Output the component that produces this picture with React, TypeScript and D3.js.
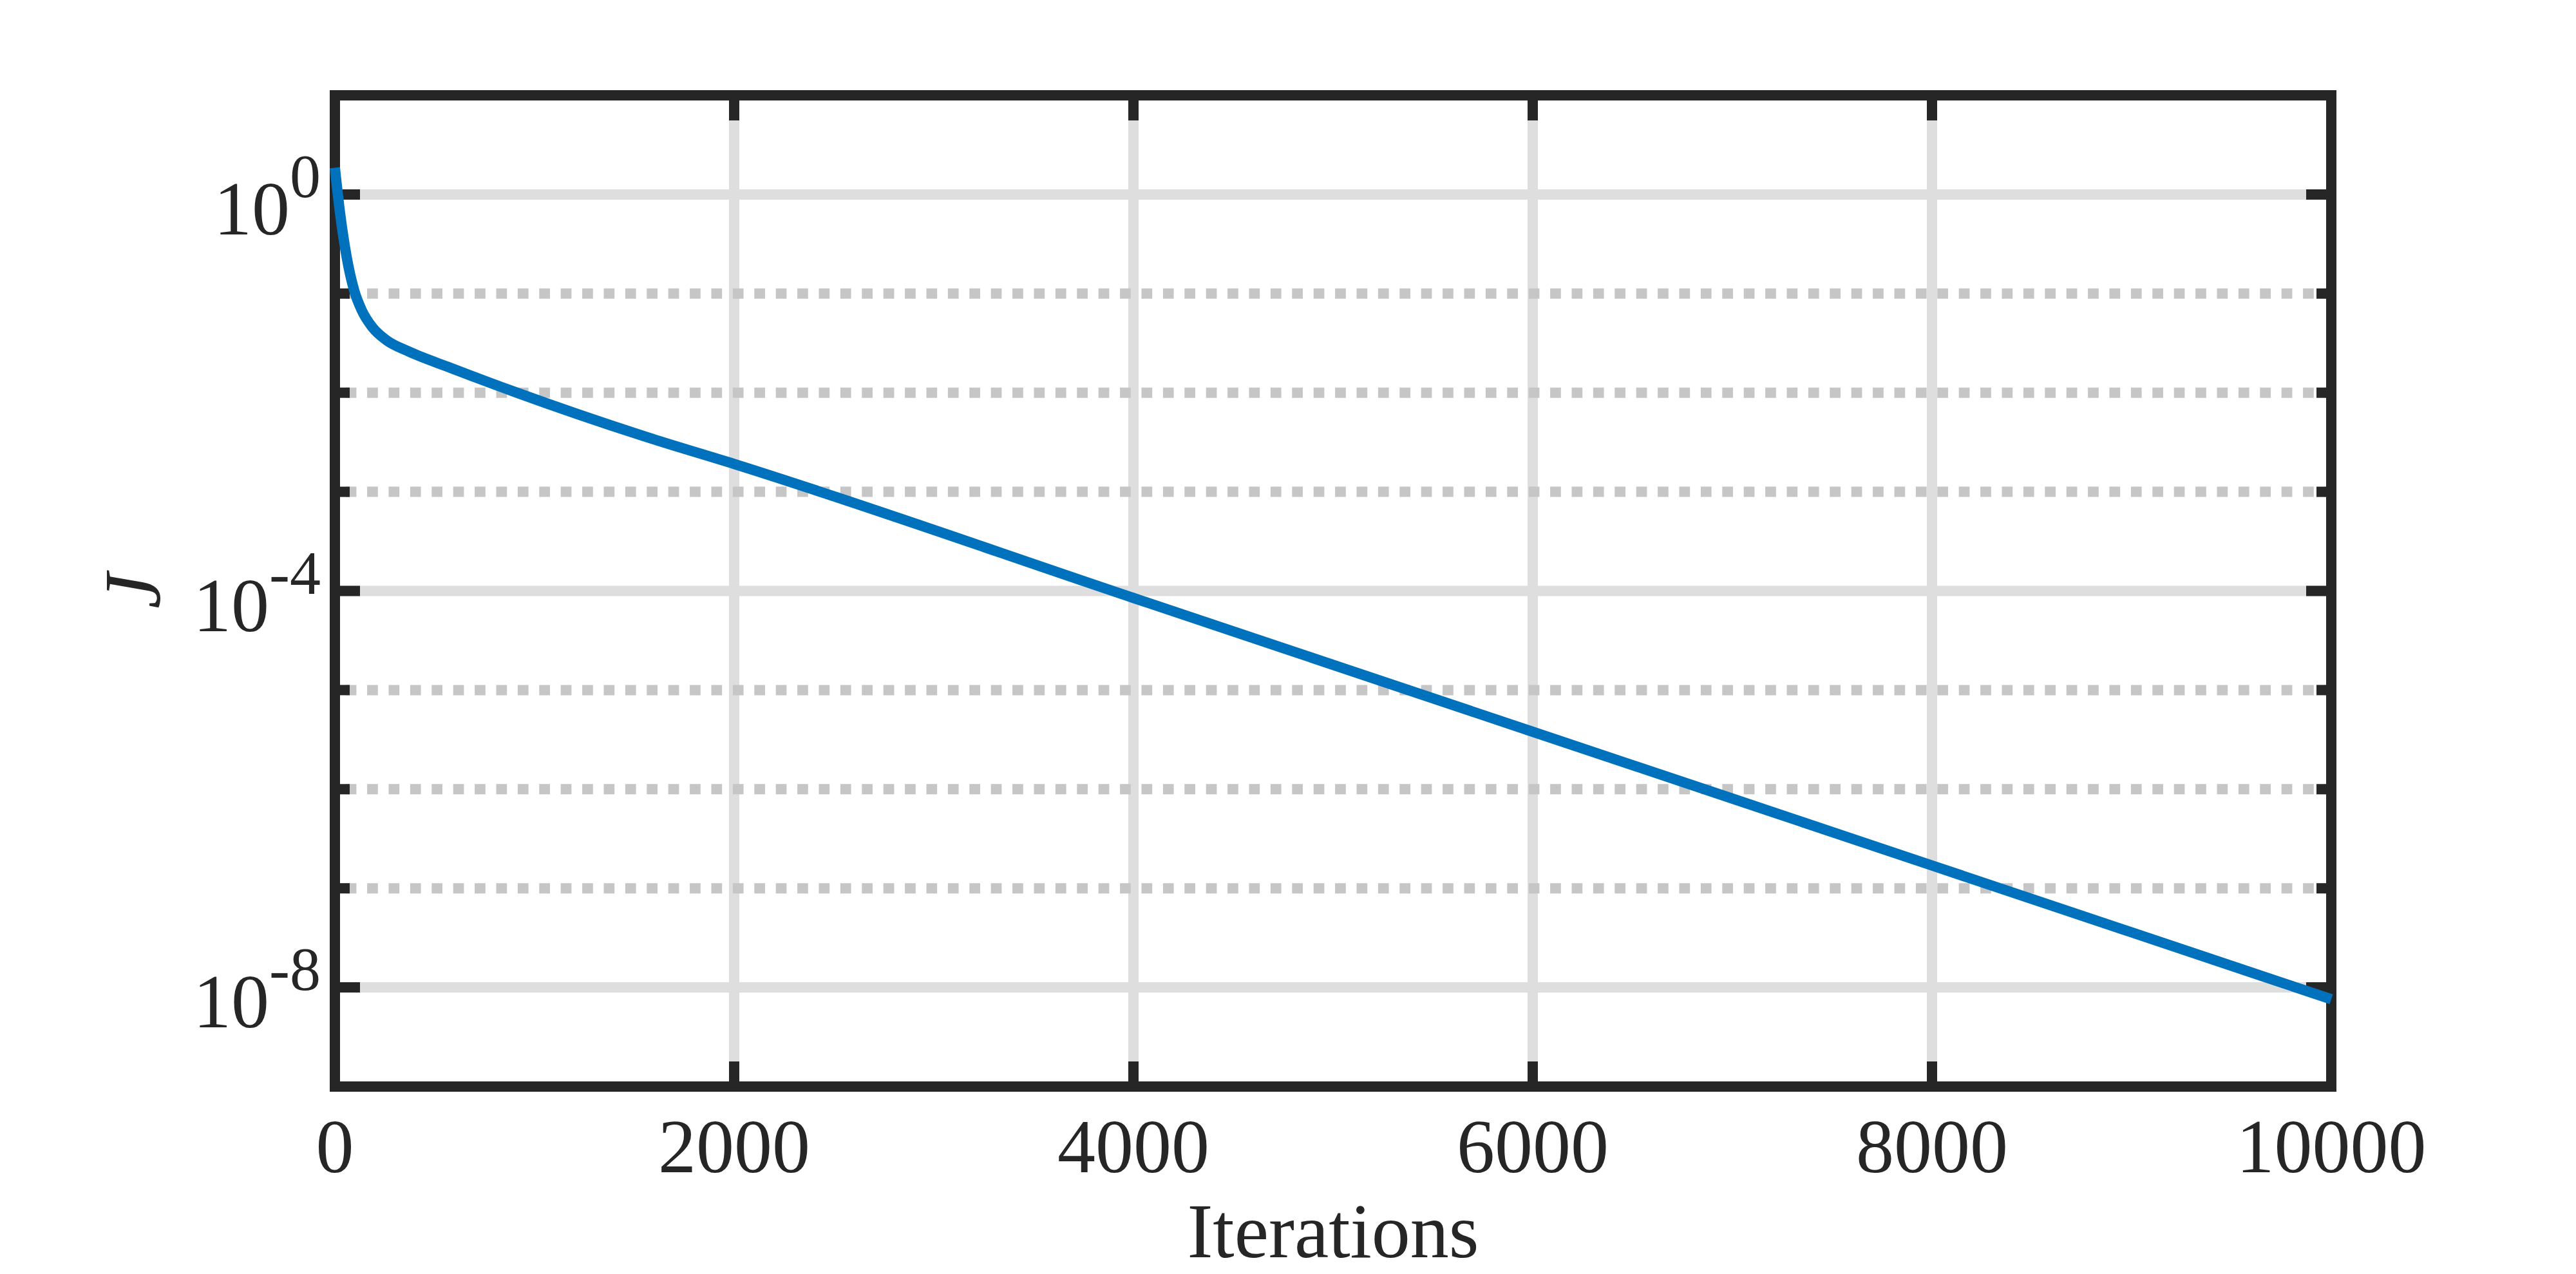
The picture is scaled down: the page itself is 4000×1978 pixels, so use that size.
import React from 'react';
import * as d3 from 'd3';

// Cost J over iterations
const iterations = [0, 26, 59, 97, 135, 188, 258, 365, 580, 900, 1550, 2000, 4000, 6000, 8000, 10000];
const costJ = [1.86, 0.646, 0.234, 0.107, 0.0676, 0.0457, 0.0339, 0.0263, 0.0178, 0.0102, 0.00363, 0.00191, 8.5e-5, 3.8e-6, 1.7e-7, 7.6e-9];

const xTicks = [0, 2000, 4000, 6000, 8000, 10000];
const yMajorExp = [0, -4, -8];
const yMinorExp = [-1, -2, -3, -5, -6, -7];

const W = 4000;
const H = 1978;
const left = 520, right = 3620, top = 148, bottom = 1687;

const AXIS = '#262626';
const FONT = '"Liberation Serif", "Times New Roman", serif';

const App = () => {
    const x = d3.scaleLinear().domain([0, 10000]).range([left, right]);
    const y = d3.scaleLog().domain([1e-9, 1e1]).range([bottom, top]);

    const data = iterations.map((it, i) => ({ it, j: costJ[i] }));
    const line = d3.line<{ it: number; j: number }>()
        .x(d => x(d.it))
        .y(d => y(d.j))
        .curve(d3.curveMonotoneX);

    const majorLen = 39;
    const minorLen = 23;

    return (
        <svg width={W} height={H} style={{ position: 'absolute', left: 0, top: 0, background: '#fff' }}>
            {/* grid */}
            {xTicks.slice(1, -1).map(t => (
                <line key={'gx' + t} x1={x(t)} x2={x(t)} y1={top} y2={bottom} stroke="#dedede" strokeWidth={16} />
            ))}
            {yMajorExp.map(e => (
                <line key={'gy' + e} x1={left} x2={right} y1={y(Math.pow(10, e))} y2={y(Math.pow(10, e))} stroke="#dedede" strokeWidth={16} />
            ))}
            {yMinorExp.map(e => (
                <line key={'gm' + e} x1={left} x2={right} y1={y(Math.pow(10, e))} y2={y(Math.pow(10, e))}
                      stroke="#c6c6c6" strokeWidth={16} strokeDasharray="16.7 16.7" strokeDashoffset={16.7} />
            ))}

            {/* ticks */}
            {xTicks.map(t => (
                <g key={'tx' + t}>
                    <line x1={x(t)} x2={x(t)} y1={bottom} y2={bottom - majorLen} stroke={AXIS} strokeWidth={16} />
                    <line x1={x(t)} x2={x(t)} y1={top} y2={top + majorLen} stroke={AXIS} strokeWidth={16} />
                </g>
            ))}
            {yMajorExp.map(e => (
                <g key={'ty' + e}>
                    <line x1={left} x2={left + majorLen} y1={y(Math.pow(10, e))} y2={y(Math.pow(10, e))} stroke={AXIS} strokeWidth={16} />
                    <line x1={right} x2={right - majorLen} y1={y(Math.pow(10, e))} y2={y(Math.pow(10, e))} stroke={AXIS} strokeWidth={16} />
                </g>
            ))}
            {yMinorExp.map(e => (
                <g key={'tm' + e}>
                    <line x1={left} x2={left + minorLen} y1={y(Math.pow(10, e))} y2={y(Math.pow(10, e))} stroke={AXIS} strokeWidth={16} />
                    <line x1={right} x2={right - minorLen} y1={y(Math.pow(10, e))} y2={y(Math.pow(10, e))} stroke={AXIS} strokeWidth={16} />
                </g>
            ))}

            {/* box */}
            <rect x={left} y={top} width={right - left} height={bottom - top} fill="none" stroke={AXIS} strokeWidth={16} strokeLinejoin="miter" />

            {/* data */}
            <path d={line(data) || ''} fill="none" stroke="#0072BD" strokeWidth={16} />

            {/* x tick labels */}
            {xTicks.map(t => (
                <text key={'lx' + t} x={x(t)} y={1820} textAnchor="middle" fontFamily={FONT} fontSize={118} fill={AXIS}>
                    {t}
                </text>
            ))}
            {/* y tick labels */}
            {yMajorExp.map(e => (
                <text key={'ly' + e} x={498} y={y(Math.pow(10, e)) + 62} textAnchor="end" fontFamily={FONT} fontSize={118} fill={AXIS}>
                    <tspan>10</tspan>
                    <tspan dy={-58} fontSize={96}>{e === 0 ? '0' : '-' + Math.abs(e)}</tspan>
                </text>
            ))}

            {/* axis labels */}
            <text x={(left + right) / 2} y={1952} textAnchor="middle" fontFamily={FONT} fontSize={120} fill={AXIS}>
                Iterations
            </text>
            <text transform={`translate(248,${(top + bottom) / 2}) rotate(-90)`} textAnchor="middle"
                  fontFamily={FONT} fontStyle="italic" fontSize={124} fill={AXIS}>
                J
            </text>
        </svg>
    );
};

export default App;
